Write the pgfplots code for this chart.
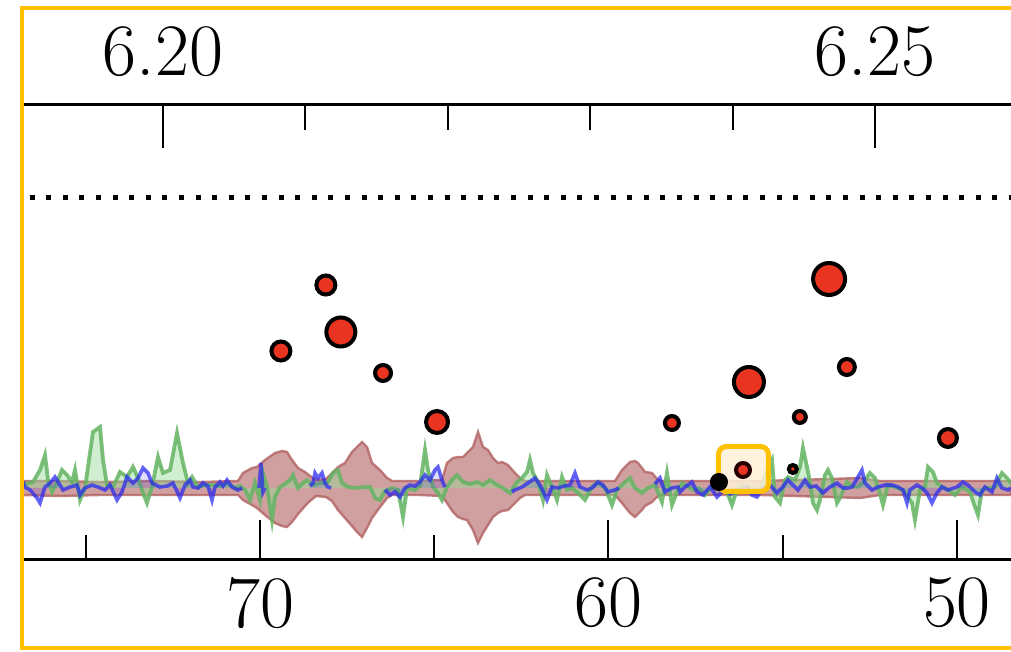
\documentclass[border=0pt]{standalone}
\usepackage{pgfplots}
\pgfplotsset{compat=1.18}

\definecolor{frameyel}{RGB}{255,192,0}
\definecolor{ptred}{RGB}{232,52,32}
\definecolor{bandfill}{RGB}{196,135,135}
\definecolor{bandedge}{RGB}{178,98,98}
\definecolor{sgreen}{RGB}{100,180,100}
\definecolor{sgreenfill}{RGB}{150,220,150}
\definecolor{sblue}{RGB}{40,40,240}
\definecolor{boxfill}{RGB}{255,241,215}

% traces were read in picture columns (px); pix maps them onto the lower axis
\pgfplotsset{pix/.style={x filter/.expression={70-(x-260)/34.85}}}

% band outline: upper edge left to right, then lower edge right to left
\pgfplotstableread{
px y
22 7
60 7
100 6
150 7
200 6
238 7
243 15
252 20
257 21
265 28
275 35
282 37
287 36
292 28
298 20
305 16
310 12
316 8
326 9
332 15
338 21
345 25
352 36
357 41
362 46
367 41
372 25
380 18
387 10
392 7
420 7
442 8
447 25
453 30
458 31
463 31
467 35
473 41
478 56
483 41
488 38
493 30
498 25
502 26
508 23
515 15
520 10
525 7
560 7
615 7
622 18
630 26
635 27
638 25
642 20
645 16
652 15
658 8
662 7
700 7
760 7
830 9
860 10
880 7
950 7
1011 7
1011 -7
950 -7
880 -7
860 -10
830 -9
760 -7
700 -7
662 -7
658 -8
652 -14
645 -18
642 -22
638 -26
635 -29
630 -25
622 -15
615 -7
560 -7
525 -7
520 -10
515 -15
508 -22
502 -23
498 -25
493 -29
488 -37
483 -45
478 -55
473 -42
467 -32
463 -31
458 -29
453 -24
447 -15
442 -8
420 -7
392 -7
387 -10
380 -19
372 -30
367 -40
362 -49
357 -44
352 -38
345 -30
338 -22
332 -13
326 -9
316 -8
310 -13
305 -18
298 -26
292 -34
287 -39
282 -38
275 -35
265 -27
257 -20
252 -17
243 -12
238 -7
200 -7
150 -7
100 -7
60 -8
22 -7
}\band

\pgfplotstableread{
px y
22 3
33 6
40 18
45 33
48 8
52 -4
57 6
62 18
67 13
72 6
75 18
80 -12
85 0
90 35
93 56
100 61
103 28
107 3
113 1
120 16
127 11
133 21
138 10
143 -5
147 -15
152 1
158 31
163 15
170 18
177 55
183 25
188 5
192 11
198 1
205 3
213 3
220 2
228 4
235 0
240 2
245 -2
250 -12
255 5
260 -12
263 15
267 1
272 -32
275 -9
280 1
285 4
290 8
293 13
298 0
303 5
307 8
312 3
320 5
328 6
333 15
338 18
342 5
348 1
357 0
365 1
370 1
375 -10
380 -12
385 -3
392 0
398 -2
403 -29
407 0
415 -2
420 2
425 38
428 18
433 1
438 -5
442 -12
447 1
452 8
457 13
463 6
470 4
477 6
483 3
490 8
497 3
503 0
510 -5
517 6
522 10
527 16
530 28
533 15
538 6
543 -12
547 13
552 1
557 -12
562 11
567 -2
572 0
578 -5
585 -12
592 1
598 6
605 0
612 -17
617 -2
625 6
630 10
635 0
642 -5
648 0
655 3
662 -14
667 15
672 -17
677 -4
682 5
687 2
693 -2
699 0
705 -7
713 3
720 -2
727 -4
732 -17
738 1
745 2
752 0
760 -2
767 18
772 28
775 -9
780 -15
785 8
788 11
795 8
800 21
803 40
807 21
810 6
813 -15
817 -22
820 -12
825 13
828 18
832 10
837 -15
840 -10
847 6
852 2
858 1
865 8
870 15
875 10
879 -2
883 -17
888 3
895 1
903 -2
912 -15
915 -32
920 -2
925 1
928 21
933 16
937 5
942 1
948 -2
955 -7
962 1
970 -4
975 -19
978 -27
982 -2
988 0
995 1
1002 15
1007 10
1011 5
}\green

\pgfplotstableread{
px y
22 8
25 1
30 -2
37 -10
40 -15
45 1
50 5
55 11
60 3
63 -2
70 1
77 3
80 -7
85 0
92 3
98 1
105 -2
110 3
117 -12
122 -4
127 11
133 5
138 10
143 20
148 15
152 5
160 1
167 2
173 5
180 -10
185 3
190 8
193 1
198 0
203 5
208 2
212 -12
215 1
220 6
223 2
227 8
232 1
238 -2
242 0
}\blueA

\pgfplotstableread{
px y
259 0
261 25
263 -4
265 0
}\blueB

\pgfplotstableread{
px y
310 2
313 5
315 15
318 10
322 15
325 5
328 1
331 0
}\blueC

\pgfplotstableread{
px y
385 -2
390 -7
395 -4
400 -9
405 0
410 3
415 2
420 6
425 13
430 8
435 18
438 21
442 8
445 1
}\blueD

\pgfplotstableread{
px y
512 -4
515 -2
522 1
528 5
535 10
540 3
547 -12
552 1
558 0
564 2
570 3
575 15
580 1
587 -2
592 0
598 6
603 3
608 -4
615 -2
619 0
}\blueE

\pgfplotstableread{
px y
655 4
660 10
665 -4
672 0
678 1
680 -4
685 1
692 6
697 -4
703 -7
710 1
717 -9
724 -2
730 -6
738 -3
747 1
752 -7
757 -9
763 0
770 3
777 -5
782 0
788 8
793 3
798 -2
805 8
810 1
816 2
823 -5
830 1
837 5
843 0
848 0
852 1
858 11
862 18
865 5
872 -2
878 1
885 3
892 3
898 1
903 -2
907 -15
910 -2
917 3
922 0
927 -5
932 -15
937 -5
942 1
948 -2
957 1
963 6
968 3
975 -4
980 -7
985 1
992 -4
997 10
1002 0
1008 -2
1011 0
}\blueF

\pgfplotstableread{
x y ms
69.40 137 4.75
68.11 203 4.75
67.68 156 7.25
66.47 115 4.0
64.92 66 5.5
58.18 65 3.5
55.97 106 7.5
54.51 71 3.0
54.71 19 2.0
53.67 209 8.0
53.16 121 4.0
50.26 50 4.5
}\points

\pgfplotsset{
  bluefill/.style={pix, draw=none, fill=sblue, fill opacity=0.15},
  blueline/.style={pix, sblue, draw opacity=0.72, line width=1.8pt},
}

\begin{document}
\begin{tikzpicture}
\begin{axis}[at={(0pt,0pt)}, anchor=south west, scale only axis,
  width=494.5pt, height=227.5pt,
  x dir=reverse, xmin=48.45, xmax=76.83, ymin=-72, ymax=383,
  axis x line*=bottom, axis y line=none,
  axis line style={line width=1.5pt, black},
  tick align=inside, major tick length=20pt, minor tick length=12.5pt,
  tick style={line width=1pt, black},
  xtick={50,60,70}, xticklabels={50,60,70}, minor xtick={55,65,75},
  xticklabel style={font=\fontsize{37}{42}\selectfont, anchor=north,
    inner sep=0pt, yshift=-8.5pt},
  ytick=\empty]

% shaded band
\addplot[pix, fill=bandfill, fill opacity=0.8, draw=bandedge, draw opacity=0.8,
  line width=1.2pt] table[x=px, y=y] {\band} -- cycle;

% green trace
\addplot[pix, draw=none, fill=sgreenfill, fill opacity=0.45] table[x=px, y=y] {\green} \closedcycle;
\addplot[pix, sgreen, draw opacity=0.85, line width=1.9pt] table[x=px, y=y] {\green};

% blue trace, in pieces
\addplot[bluefill] table[x=px, y=y] {\blueA} \closedcycle;
\addplot[blueline] table[x=px, y=y] {\blueA};
\addplot[blueline] table[x=px, y=y] {\blueB};
\addplot[bluefill] table[x=px, y=y] {\blueC} \closedcycle;
\addplot[blueline] table[x=px, y=y] {\blueC};
\addplot[bluefill] table[x=px, y=y] {\blueD} \closedcycle;
\addplot[blueline] table[x=px, y=y] {\blueD};
\addplot[bluefill] table[x=px, y=y] {\blueE} \closedcycle;
\addplot[blueline] table[x=px, y=y] {\blueE};
\addplot[bluefill] table[x=px, y=y] {\blueF} \closedcycle;
\addplot[blueline] table[x=px, y=y] {\blueF};

% threshold
\addplot[black, line width=2.5pt, dash pattern=on 2.5pt off 5.8pt, dash phase=4.5pt]
  coordinates {(76.83,290) (48.45,290)};

% points
\addplot[scatter, only marks, mark=*, line width=2pt,
  scatter/use mapped color={draw=black, fill=ptred},
  visualization depends on={\thisrow{ms} \as \msz},
  scatter/@pre marker code/.append style={/tikz/mark size=\msz}]
  table[x=x, y=y] {\points};
\addplot[only marks, mark=*, mark size=3.5pt, line width=2pt,
  mark options={draw=black, fill=black}] coordinates {(56.83,6)};

% highlight
\draw[frameyel, line width=2.5pt, rounded corners=4pt, fill=boxfill, fill opacity=0.85]
  (axis cs:56.844,41.5) rectangle (axis cs:55.409,-3.5);
\addplot[only marks, mark=*, mark size=3.5pt, line width=2pt,
  mark options={draw=black!85!red, fill=ptred}] coordinates {(56.14,18)};
\end{axis}

\begin{axis}[at={(0pt,0pt)}, anchor=south west, scale only axis,
  width=494.5pt, height=227.5pt,
  xmin=6.190098, xmax=6.259551, ymin=0, ymax=1,
  axis x line*=top, axis y line=none,
  axis line style={line width=1.5pt, black},
  tick align=inside, major tick length=21.5pt, minor tick length=12.5pt,
  tick style={line width=1pt, black},
  xtick={6.20,6.25}, xticklabels={6.20,6.25},
  minor xtick={6.21,6.22,6.23,6.24},
  xticklabel style={font=\fontsize{37}{42}\selectfont, anchor=south,
    inner sep=0pt, yshift=14pt},
  ytick=\empty]
\addplot[draw=none] coordinates {(6.22,0.5)};
\end{axis}

\draw[frameyel, line width=2pt] (520pt,-44pt) -- (0pt,-44pt) -- (0pt,276pt) -- (520pt,276pt);
\pgfresetboundingbox
\useasboundingbox (-11pt,-46pt) rectangle (494.5pt,280pt);
\end{tikzpicture}
\end{document}
